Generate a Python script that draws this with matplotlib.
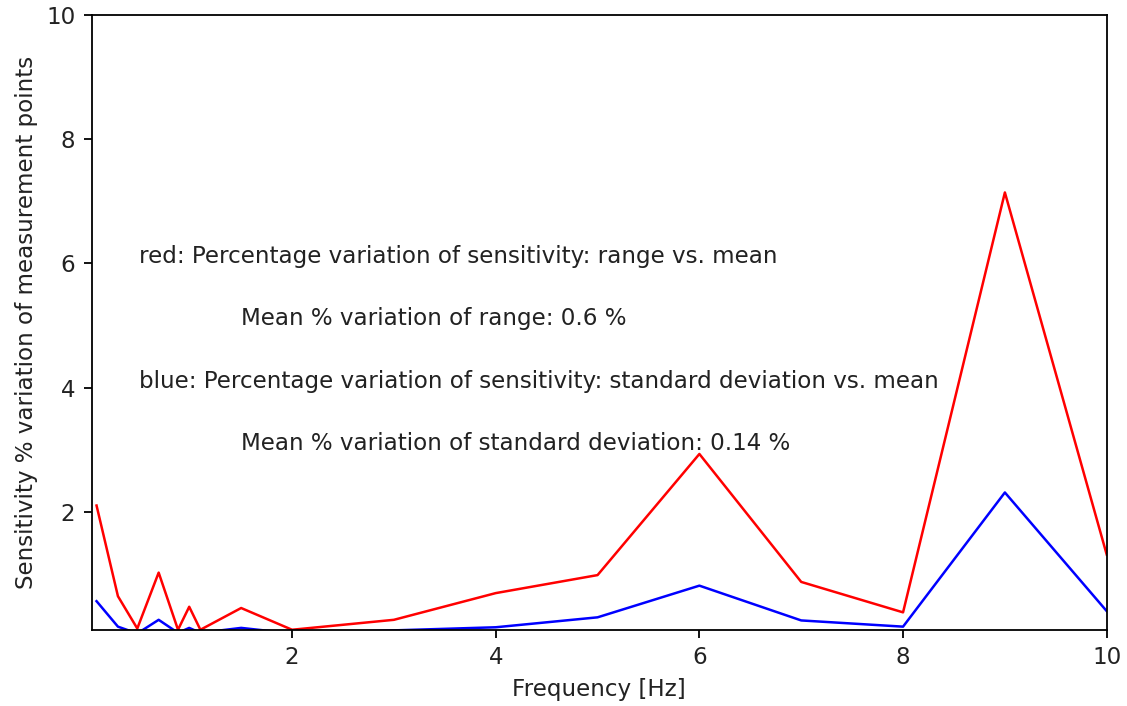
import numpy as np
import matplotlib.pyplot as plt

# frequencies of the measurement points [Hz]
freq = [0.08, 0.29, 0.48, 0.69, 0.88, 0.99, 1.1, 1.5, 2, 3, 4, 5, 6, 7, 8, 9, 10]
# % variation of sensitivity: range vs. mean
var_range = [2.10, 0.64, 0.12, 1.02, 0.10, 0.47, 0.10, 0.45, 0.10, 0.26, 0.69, 0.98,
             2.93, 0.87, 0.38, 7.14, 1.31]
# % variation of sensitivity: standard deviation vs. mean
var_std = [0.56, 0.15, 0.04, 0.26, 0.05, 0.13, 0.05, 0.13, 0.04, 0.09, 0.14, 0.30,
           0.81, 0.25, 0.15, 2.31, 0.40]

mean_range = 0.6
mean_std = 0.14

fs = 16.6
tc = "#222222"

fig = plt.figure(figsize=(11.27, 7.06), dpi=100)
ax = fig.add_axes([0.0816, 0.108, 0.9004, 0.871])

ax.plot(freq, var_range, c="r", lw=1.8)
ax.plot(freq, var_std, c="b", lw=1.8)

ax.text(0.5, 6, "red: Percentage variation of sensitivity: range vs. mean", fontsize=fs, color=tc)
ax.text(1.5, 5, "Mean % variation of range: " + str(mean_range) + " %", fontsize=fs, color=tc)
ax.text(0.5, 4, "blue: Percentage variation of sensitivity: standard deviation vs. mean", fontsize=fs, color=tc)
ax.text(1.5, 3, "Mean % variation of standard deviation: " + str(mean_std) + " %", fontsize=fs, color=tc)

ax.set_xlim(0.035, 10)
ax.set_ylim(0.1, 10)
ax.set_xticks([2, 4, 6, 8, 10])
ax.set_yticks([2, 4, 6, 8, 10])
ax.tick_params(labelsize=fs, labelcolor=tc, length=5.5, width=1.3, pad=6.5)
for s in ax.spines.values():
    s.set_linewidth(1.3)
ax.set_xlabel("Frequency [Hz]", fontsize=fs, color=tc, labelpad=6)
ax.set_ylabel("Sensitivity % variation of measurement points", fontsize=fs, color=tc, labelpad=6)

plt.savefig("out.png")
